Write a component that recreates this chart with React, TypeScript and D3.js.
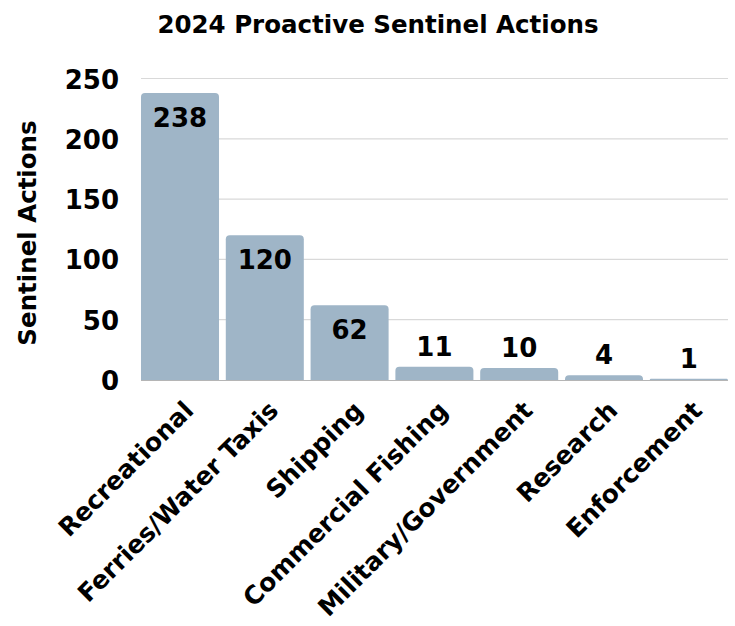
import React from "react";
import * as d3 from "d3";

const categories = ["Recreational", "Ferries/Water Taxis", "Shipping", "Commercial Fishing", "Military/Government", "Research", "Enforcement"];
const values = [238, 120, 62, 11, 10, 4, 1];
const yTicks = [0, 50, 100, 150, 200, 250];
const title = "2024 Proactive Sentinel Actions";
const yLabel = "Sentinel Actions";

const W = 735, H = 626;
const FONT = "'DejaVu Sans', sans-serif";

export default function App() {
  const x = d3.scaleBand<string>().domain(categories).range([137.6, 731.2]).paddingInner(0.08).paddingOuter(0.04);
  const y = d3.scaleLinear().domain([0, 250]).range([380, 78.5]);
  const r = 4;
  const barPath = (c: string, v: number) => {
    const x0 = x(c)!, w = x.bandwidth(), y0 = y(v), yb = y(0);
    const rr = Math.min(r, (yb - y0));
    const p = d3.path();
    p.moveTo(x0, yb);
    p.lineTo(x0, y0 + rr);
    p.quadraticCurveTo(x0, y0, x0 + rr, y0);
    p.lineTo(x0 + w - rr, y0);
    p.quadraticCurveTo(x0 + w, y0, x0 + w, y0 + rr);
    p.lineTo(x0 + w, yb);
    p.closePath();
    return p.toString();
  };
  return (
    <svg width={W} height={H} style={{ position: "absolute", left: 0, top: 0, background: "#fff" }}>
      <text x={378} y={33} textAnchor="middle" fontFamily={FONT} fontWeight={700} fontSize={24.5} fill="#000">{title}</text>
      {yTicks.map(t => (
        <g key={t}>
          {t > 0 && <line x1={141} x2={728} y1={y(t)} y2={y(t)} stroke="#d9d9d9" strokeWidth={1.2} />}
          <text x={119} y={y(t) + 10} textAnchor="end" fontFamily={FONT} fontWeight={700} fontSize={26} fill="#000">{t}</text>
        </g>
      ))}
      <text transform={`translate(36,233) rotate(-90)`} textAnchor="middle" fontFamily={FONT} fontWeight={700} fontSize={24.5} fill="#000">{yLabel}</text>
      {categories.map((c, i) => (
        <path key={c} d={barPath(c, values[i])} fill="#9fb5c7" />
      ))}
      <line x1={141} x2={728} y1={380.5} y2={380.5} stroke="#b5b5b5" strokeWidth={1.2} />
      {categories.map((c, i) => {
        const v = values[i];
        const inside = v > 30;
        const cx = x(c)! + x.bandwidth() / 2;
        const ty = inside ? y(v) + 34 : y(v) - 11;
        return <text key={c} x={cx} y={ty} textAnchor="middle" fontFamily={FONT} fontWeight={700} fontSize={26} fill="#000">{v}</text>;
      })}
      {categories.map(c => {
        const cx = x(c)! + x.bandwidth() / 2;
        return <text key={c} transform={`translate(${cx + 15},${412}) rotate(-45)`} textAnchor="end" fontFamily={FONT} fontWeight={700} fontSize={25} fill="#000">{c}</text>;
      })}
    </svg>
  );
}
